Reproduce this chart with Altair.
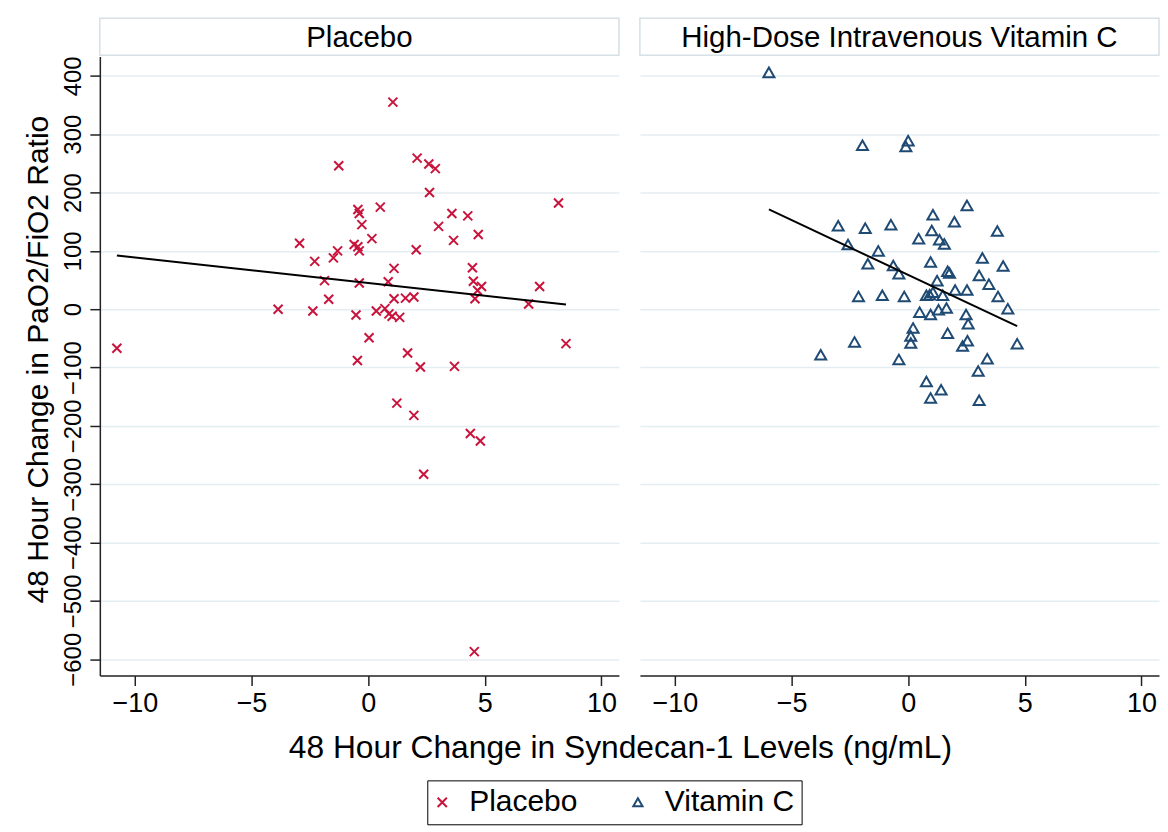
import altair as alt
import pandas as pd

# ---------------- data ----------------
groups = ["Placebo", "Vitamin C"]
panel_titles = ["Placebo", "High-Dose Intravenous Vitamin C"]
x_ticks = [-10, -5, 0, 5, 10]
y_ticks = [-600, -500, -400, -300, -200, -100, 0, 100, 200, 300, 400]

placebo_x = [-1.26, -0.44, -0.38, -0.27, -2.94, -0.60, -0.44, -0.38, -1.31, -1.49,
             -2.29, -1.87, -0.38, -1.69, -3.86, -2.37, -0.52, -10.77, -0.46, 0.04,
             1.06, 2.10, 2.60, 2.88, 2.63, 0.52, 0.16, 3.59, 4.27, 3.02,
             3.66, 4.72, 8.16, 2.06, 1.11, 0.86, 4.47, 4.51, 4.86, 4.69,
             4.58, 7.35, 6.88, 1.11, 1.60, 1.96, 0.35, 0.72, 0.89, 1.03,
             1.35, 1.69, 2.24, 3.70, 1.23, 1.96, 2.38, 4.38, 4.81, 4.55,
             8.48]
placebo_y = [246, 171, 164, 145, 113, 111, 107, 100, 100, 88,
             82, 49, 45, 17, 0, -3, -10, -67, -88, -49,
             355, 259, 249, 241, 200, 175, 121, 164, 160, 142,
             118, 128, 182, 102, 70, 47, 71, 48, 39, 32,
             18, 39, 9, 18, 19, 21, -3, 1, -8, -12,
             -14, -75, -99, -98, -161, -182, -283, -213, -226, -587,
             -59]

vitc_x = [-5.97, -1.96, 0.00, -0.10, -3.00, -1.84, -0.74, -2.58, -1.28, 2.52,
          1.06, 1.98, 1.01, 3.82, 0.45, 1.34, 1.55, 3.18, -1.73, -0.64,
          0.96, 4.07, -0.40, 1.69, 1.77, 3.04, 1.24, 3.46, -2.13, -1.11,
          -0.17, 0.78, 0.92, 1.06, 1.48, 2.01, 2.52, 3.85, 4.27, 0.49,
          0.96, 1.30, 1.64, 2.48, 2.57, 0.21, 0.11, 0.11, 1.69, 2.54,
          2.33, 4.67, -2.30, -3.75, -0.40, 3.39, 3.00, 0.78, 1.41, 0.96,
          3.04]
vitc_y = [406, 281, 289, 279, 143, 139, 145, 111, 100, 178,
          162, 150, 135, 134, 121, 119, 112, 88, 78, 75,
          81, 74, 61, 65, 62, 58, 49, 43, 22, 24,
          22, 24, 25, 29, 24, 33, 33, 22, 1, -5,
          -9, -1, 2, -9, -25, -32, -46, -58, -41, -54,
          -63, -59, -56, -78, -86, -85, -106, -124, -138, -152,
          -156]

# fitted (linear) lines, end points
fit_placebo_x = [-10.77, 8.48]
fit_placebo_y = [92, 8]
fit_vitc_x = [-5.97, 4.67]
fit_vitc_y = [171, -29]

# ---------------- styling ----------------
FONT = "Liberation Sans"
RED = "#c8143c"
BLUE = "#1f4a73"
X_PATH = "M-1,-1L1,1M-1,1L1,-1"
W, H = 520, 620
X_DOMAIN = [-11.5, 10.75]
Y_DOMAIN = [-628, 433]
LEG_X, LEG_Y = 328, 725

shape_scale = alt.Scale(domain=groups, range=[X_PATH, "triangle-up"])
color_scale = alt.Scale(domain=groups, range=[RED, BLUE])


def panel(px, py, fx, fy, group, title, first):
    pts = pd.DataFrame({"x": px, "y": py, "group": [group] * len(px)})
    fit = pd.DataFrame({"x": fx, "y": fy})
    head = pd.DataFrame({"title": [title]})

    if first:
        xaxis = alt.Axis(values=x_ticks, title="48 Hour Change in Syndecan-1 Levels (ng/mL)",
                         titleX=521, titleY=82, titleAlign="center", titleBaseline="alphabetic",
                         titleFontSize=31.8, grid=False)
        yaxis = alt.Axis(values=y_ticks, title="48 Hour Change in PaO2/FiO2 Ratio",
                         labelAngle=270, labelAlign="center", labelBaseline="bottom",
                         labelPadding=4, labelFontSize=24, titleFontSize=30, titlePadding=8,
                         titleY=303, grid=True)
    else:
        xaxis = alt.Axis(values=x_ticks, title=None, grid=False)
        yaxis = alt.Axis(values=y_ticks, title=None, labels=False, ticks=False,
                         domain=False, grid=True)

    xenc = alt.X("x:Q", scale=alt.Scale(domain=X_DOMAIN, nice=False, zero=False), axis=xaxis)
    yenc = alt.Y("y:Q", scale=alt.Scale(domain=Y_DOMAIN, nice=False, zero=False), axis=yaxis)

    leg = alt.Legend(title=None, orient="none", legendX=LEG_X, legendY=LEG_Y,
                     direction="horizontal")
    points = alt.Chart(pts).mark_point(
        filled=False, strokeWidth=2, opacity=1, size=81 if group == "Placebo" else 121
    ).encode(
        x=xenc, y=yenc,
        shape=alt.Shape("group:N", scale=shape_scale, legend=leg),
        color=alt.Color("group:N", scale=color_scale, legend=leg),
    )
    line = alt.Chart(fit).mark_line(color="black", strokeWidth=2).encode(
        x=alt.X("x:Q"), y=alt.Y("y:Q"))
    box = alt.Chart(head).mark_rect(fill="white", stroke="#d6e0e6", strokeWidth=1.5).encode(
        x=alt.value(0), x2=alt.value(W), y=alt.value(-38.5), y2=alt.value(-1.5))
    txt = alt.Chart(head).mark_text(font=FONT, fontSize=29.5, color="black",
                                    align="center", baseline="middle").encode(
        x=alt.value(W / 2), y=alt.value(-19), text="title:N")
    return alt.layer(box, txt, points, line).properties(width=W, height=H)


left = panel(placebo_x, placebo_y, fit_placebo_x, fit_placebo_y, "Placebo", panel_titles[0], True)
right = panel(vitc_x, vitc_y, fit_vitc_x, fit_vitc_y, "Vitamin C", panel_titles[1], False)

chart = alt.hconcat(left, right, spacing=21, bounds="flush").properties(
    padding={"left": 15, "top": 8, "right": 0, "bottom": 0}
).configure_view(stroke=None).configure_axis(
    domainColor="#222222", domainWidth=1.5, tickColor="#222222", tickWidth=1.5, tickSize=10,
    labelColor="black", labelFont=FONT, labelFontSize=27, labelPadding=5,
    titleColor="black", titleFont=FONT, titleFontWeight="normal",
    gridColor="#e4edf1", gridWidth=1.5,
).configure_legend(
    labelFont=FONT, labelFontSize=30, labelColor="black", symbolSize=85, symbolStrokeWidth=2,
    strokeColor="black", padding=7, labelOffset=12, columnPadding=51, symbolOffset=-7,
)

chart.save("out.html", embed_options={"renderer": "svg", "actions": False})
